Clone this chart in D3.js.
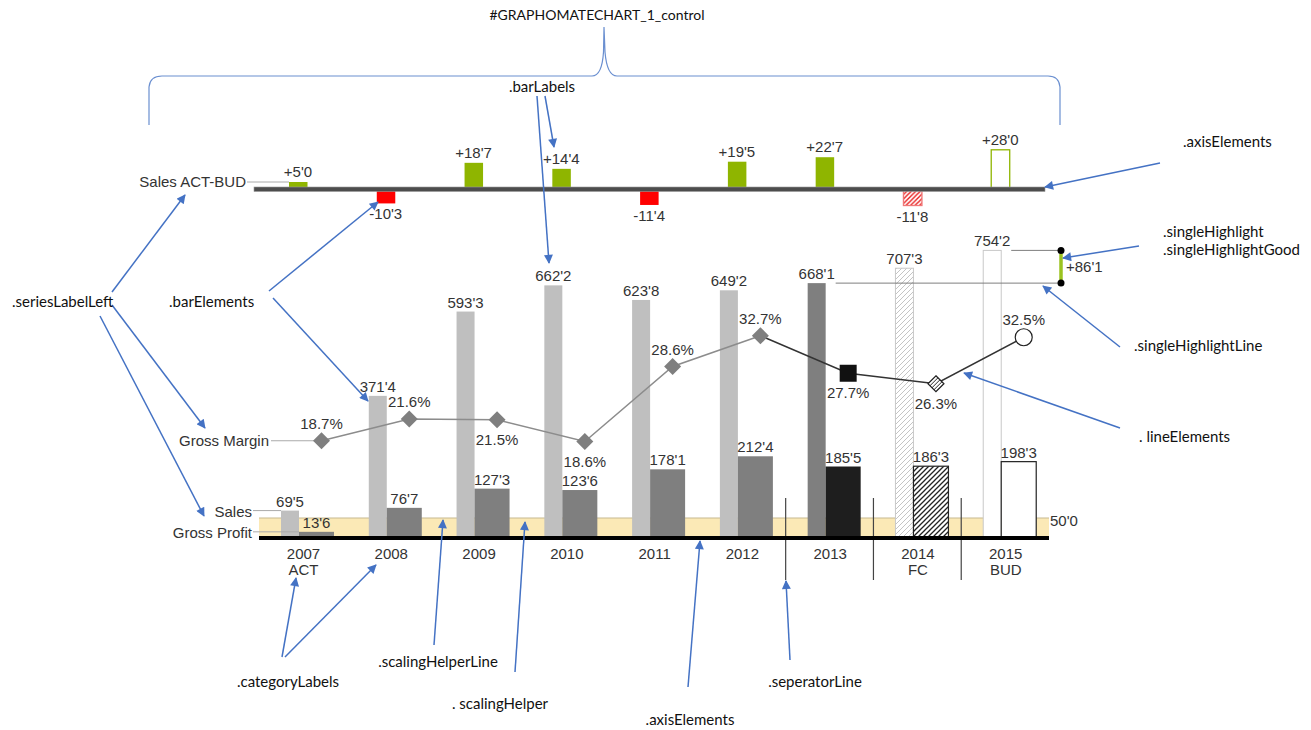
<!DOCTYPE html>
<html>
<head>
<meta charset="utf-8">
<script src="https://cdn.jsdelivr.net/npm/d3@7"></script>
<style>
    body { margin: 0; background: #fff; }
    svg text { font-family: "Liberation Sans", Arial, sans-serif; }
    .chart text { fill: #333; font-size: 15px; }
    .note text { font-family: Lato, sans-serif; font-size: 15px; fill: #111; }
</style>
</head>
<body>
<div id="chart"></div>
<script>
// data
let categories = ["2007", "2008", "2009", "2010", "2011", "2012", "2013", "2014", "2015"];
let categorySub = ["ACT", "", "", "", "", "", "", "FC", "BUD"];
let scenario = ["AC", "AC", "AC", "AC", "AC", "AC", "CY", "FC", "BU"];
let sales = [69.5, 371.4, 593.3, 662.2, 623.8, 649.2, 668.1, 707.3, 754.2];
let grossProfit = [13.6, 76.7, 127.3, 123.6, 178.1, 212.4, 185.5, 186.3, 198.3];
let grossMargin = [18.7, 21.6, 21.5, 18.6, 28.6, 32.7, 27.7, 26.3, 32.5];
let salesActBud = [5.0, -10.3, 18.7, 14.4, -11.4, 19.5, 22.7, -11.8, 28.0];
let scalingHelper = 50;
let separatorsAfter = ["2012", "2013", "2014"];
let highlightFrom = "2013", highlightTo = "2015";
let seriesNames = ["Sales ACT-BUD", "Gross Margin", "Sales", "Gross Profit"];

// annotation layer (blue call-outs)
let notes = [
    {t: "#GRAPHOMATECHART_1_control", x: 597, y: 20, a: "middle", s: 14},
    {t: ".barLabels", x: 542, y: 92, a: "middle"},
    {t: ".axisElements", x: 1183, y: 147},
    {t: ".singleHighlight", x: 1163, y: 237},
    {t: ".singleHighlightGood", x: 1163, y: 255},
    {t: ".singleHighlightLine", x: 1134, y: 351},
    {t: ". lineElements", x: 1139, y: 442},
    {t: ".seriesLabelLeft", x: 12, y: 307},
    {t: ".barElements", x: 169, y: 307},
    {t: ".categoryLabels", x: 288, y: 687, a: "middle"},
    {t: ".scalingHelperLine", x: 438, y: 667, a: "middle"},
    {t: ". scalingHelper", x: 500, y: 709, a: "middle"},
    {t: ".axisElements", x: 690, y: 725, a: "middle"},
    {t: ".seperatorLine", x: 815, y: 687, a: "middle"}
];
let arrows = [
    [537, 96, 549, 263], [545, 96, 554, 147],
    [1160, 163, 1045, 187], [1139, 246, 1063, 258],
    [1120, 347, 1043, 286], [1120, 428, 964, 373],
    [112, 292, 185, 195], [112, 305, 205, 428], [100, 316, 204, 516],
    [269, 291, 378, 202], [273, 298, 368, 401],
    [282, 657, 296, 578], [285, 657, 376, 565],
    [434, 645, 443, 520], [515, 672, 525, 522],
    [688, 687, 700, 541], [790, 660, 786, 581]
];

let fmt = (v) => v.toFixed(1).replace(".", "'");
let fmtDelta = (v) => (v > 0 ? "+" : "") + fmt(v);

let width = 1311, height = 730;

let svg = d3.select("#chart").append("svg")
    .attr("width", width)
    .attr("height", height);

let defs = svg.append("defs");

function hatch(id, color, size, sw) {
    let p = defs.append("pattern")
        .attr("id", id)
        .attr("patternUnits", "userSpaceOnUse")
        .attr("width", size)
        .attr("height", size);
    p.append("rect").attr("width", size).attr("height", size).attr("fill", "#fff");
    p.append("path")
        .attr("d", "M-1,1 l2,-2 M0," + size + " l" + size + "," + (-size) + " M" + (size - 1) + "," + (size + 1) + " l2,-2")
        .attr("stroke", color)
        .attr("stroke-width", sw);
}
hatch("hatchLight", "#c4c4c4", 5, 1);
hatch("hatchDark", "#222", 5, 1.3);
hatch("hatchRed", "#e81c1c", 4.5, 1.4);
hatch("hatchMarker", "#222", 4, 1);

defs.append("marker")
    .attr("id", "arrow")
    .attr("viewBox", "0 0 10 10")
    .attr("refX", 9).attr("refY", 5)
    .attr("markerUnits", "userSpaceOnUse")
    .attr("markerWidth", 11).attr("markerHeight", 9)
    .attr("orient", "auto")
    .append("path")
    .attr("d", "M0,0 L10,5 L0,10 z")
    .attr("fill", "#4472c4");

// scales
let x = d3.scaleBand().domain(categories).range([259, 1049]);
let y = d3.scaleLinear().domain([0, 800]).range([537, 233]);
let yPct = d3.scaleLinear().domain([0, 40]).range([581, 281]);
let yDelta = d3.scaleLinear().domain([-15, 30]).range([210, 147]);

let salesStyle = {AC: ["#bfbfbf", "none"], CY: ["#7f7f7f", "none"], FC: ["url(#hatchLight)", "#c8c8c8"], BU: ["#fff", "#c8c8c8"]};
let gpStyle = {AC: ["#7f7f7f", "none"], CY: ["#1e1e1e", "none"], FC: ["url(#hatchDark)", "#222"], BU: ["#fff", "#222"]};
let GOOD = "#8fb500", BAD = "#ff0000";

let chart = svg.append("g").attr("class", "chart");

// ---- Sales ACT-BUD delta chart
let dg = chart.append("g");
dg.selectAll("rect")
    .data(salesActBud)
    .join("rect")
    .attr("x", (d, i) => x(categories[i]) + 30)
    .attr("width", 18.5)
    .attr("y", (d) => d > 0 ? yDelta(d) : yDelta(0))
    .attr("height", (d) => Math.abs(yDelta(d) - yDelta(0)))
    .attr("fill", (d, i) => {
        if (scenario[i] === "FC") return d > 0 ? GOOD : "url(#hatchRed)";
        if (scenario[i] === "BU") return "#fff";
        return d > 0 ? GOOD : BAD;
    })
    .attr("stroke", (d, i) => scenario[i] === "FC" ? "#f07878" : scenario[i] === "BU" ? GOOD : "none")
    .attr("stroke-width", 1.3);

dg.selectAll("text")
    .data(salesActBud)
    .join("text")
    .attr("x", (d, i) => x(categories[i]) + 39)
    .attr("y", (d) => d > 0 ? yDelta(d) - 5 : yDelta(d) + 16)
    .attr("text-anchor", "middle")
    .text((d) => fmtDelta(d));

dg.append("rect")
    .attr("x", x(categories[0]) - 5)
    .attr("y", yDelta(0) - 2)
    .attr("width", x.range()[1] - x(categories[0]) + 1)
    .attr("height", 4.5)
    .attr("fill", "#4d4d4d")
    .attr("stroke", "#9a9a9a")
    .attr("stroke-width", 0.6);

dg.append("line")
    .attr("x1", 247).attr("x2", x(categories[0]) + 30)
    .attr("y1", yDelta(salesActBud[0])).attr("y2", yDelta(salesActBud[0]))
    .attr("stroke", "#aaa");
dg.append("text")
    .attr("x", 246).attr("y", yDelta(salesActBud[0]) + 5)
    .attr("text-anchor", "end")
    .text(seriesNames[0]);

// ---- main chart
// scaling helper band
chart.append("rect")
    .attr("x", x.range()[0])
    .attr("y", y(scalingHelper))
    .attr("width", x.range()[1] - x.range()[0])
    .attr("height", y(0) - y(scalingHelper))
    .attr("fill", "#fbe9b6");
chart.append("line")
    .attr("x1", x.range()[0]).attr("x2", x.range()[1])
    .attr("y1", y(scalingHelper)).attr("y2", y(scalingHelper))
    .attr("stroke", "#c7b98f");
chart.append("text")
    .attr("x", x.range()[1] + 1)
    .attr("y", y(scalingHelper) + 8)
    .text(fmt(scalingHelper));

// bars
chart.append("g").selectAll("rect")
    .data(sales)
    .join("rect")
    .attr("x", (d, i) => x(categories[i]) + 22)
    .attr("width", 18)
    .attr("y", (d) => y(d))
    .attr("height", (d) => y(0) - y(d))
    .attr("fill", (d, i) => salesStyle[scenario[i]][0])
    .attr("stroke", (d, i) => salesStyle[scenario[i]][1]);

chart.append("g").selectAll("rect")
    .data(grossProfit)
    .join("rect")
    .attr("x", (d, i) => x(categories[i]) + 40)
    .attr("width", 35)
    .attr("y", (d) => y(d))
    .attr("height", (d) => y(0) - y(d))
    .attr("fill", (d, i) => gpStyle[scenario[i]][0])
    .attr("stroke", (d, i) => gpStyle[scenario[i]][1])
    .attr("stroke-width", 1.2);

// bar labels
chart.append("g").selectAll("text")
    .data(sales)
    .join("text")
    .attr("x", (d, i) => x(categories[i]) + 31)
    .attr("y", (d) => y(d) - 4)
    .attr("text-anchor", "middle")
    .text((d) => fmt(d));
chart.append("g").selectAll("text")
    .data(grossProfit)
    .join("text")
    .attr("x", (d, i) => x(categories[i]) + 57.5)
    .attr("y", (d) => y(d) - 4)
    .attr("text-anchor", "middle")
    .text((d) => fmt(d));

// separator lines
chart.append("g").selectAll("line")
    .data(separatorsAfter)
    .join("line")
    .attr("x1", (d) => x(d) + x.bandwidth())
    .attr("x2", (d) => x(d) + x.bandwidth())
    .attr("y1", 498).attr("y2", 580)
    .attr("stroke", "#444")
    .attr("stroke-width", 1.2);

// axis
chart.append("rect")
    .attr("x", x.range()[0])
    .attr("y", y(0) - 1)
    .attr("width", x.range()[1] - x.range()[0])
    .attr("height", 4)
    .attr("fill", "#000");

// category labels
let cl = chart.append("g").selectAll("g")
    .data(categories)
    .join("g");
cl.append("text")
    .attr("x", (d) => x(d) + 44.5).attr("y", 559)
    .attr("text-anchor", "middle")
    .text((d) => d);
cl.append("text")
    .attr("x", (d) => x(d) + 44.5).attr("y", 575)
    .attr("text-anchor", "middle")
    .text((d, i) => categorySub[i]);

// gross margin line
let pts = grossMargin.map((v, i) => [x(categories[i]) + 62.5, yPct(v)]);
let line = d3.line();
chart.append("line")
    .attr("x1", 271).attr("x2", pts[0][0])
    .attr("y1", pts[0][1]).attr("y2", pts[0][1])
    .attr("stroke", "#aaa");
chart.append("path")
    .attr("d", line(pts.slice(0, 6)))
    .attr("fill", "none").attr("stroke", "#8c8c8c").attr("stroke-width", 1.5);
chart.append("path")
    .attr("d", line(pts.slice(5)))
    .attr("fill", "none").attr("stroke", "#333").attr("stroke-width", 1.5);

let diamond = (r) => "M0," + (-r) + "L" + r + ",0L0," + r + "L" + (-r) + ",0Z";
chart.append("g").selectAll("path")
    .data(pts)
    .join("path")
    .attr("transform", (d) => "translate(" + d[0] + "," + d[1] + ")")
    .attr("d", (d, i) => {
        let s = scenario[i];
        if (s === "CY") return "M-8.5,-8.5h17v17h-17Z";
        if (s === "FC") return diamond(8);
        if (s === "BU") return d3.symbol(d3.symbolCircle, Math.PI * 8.5 * 8.5)();
        return diamond(8.5);
    })
    .attr("fill", (d, i) => ({AC: "#7f7f7f", CY: "#111", FC: "url(#hatchMarker)", BU: "#fff"})[scenario[i]])
    .attr("stroke", (d, i) => scenario[i] === "FC" || scenario[i] === "BU" ? "#222" : "none")
    .attr("stroke-width", 1.2);

chart.append("g").selectAll("text")
    .data(grossMargin)
    .join("text")
    .attr("x", (d, i) => pts[i][0])
    .attr("y", (d, i) => (i === 0 || d >= grossMargin[i - 1]) ? pts[i][1] - 12 : pts[i][1] + 25)
    .attr("text-anchor", "middle")
    .text((d) => d.toFixed(1) + "%");

// series labels on the left
chart.append("text")
    .attr("x", 269).attr("y", pts[0][1] + 5)
    .attr("text-anchor", "end")
    .text(seriesNames[1]);
chart.append("line")
    .attr("x1", 253).attr("x2", x(categories[0]) + 22)
    .attr("y1", y(sales[0])).attr("y2", y(sales[0]))
    .attr("stroke", "#aaa");
chart.append("text")
    .attr("x", 252).attr("y", y(sales[0]) + 6)
    .attr("text-anchor", "end")
    .text(seriesNames[2]);
chart.append("line")
    .attr("x1", 253).attr("x2", x(categories[0]) + 40)
    .attr("y1", y(grossProfit[0])).attr("y2", y(grossProfit[0]))
    .attr("stroke", "#aaa");
chart.append("text")
    .attr("x", 252).attr("y", y(grossProfit[0]) + 6)
    .attr("text-anchor", "end")
    .text(seriesNames[3]);

// single highlight
let iFrom = categories.indexOf(highlightFrom), iTo = categories.indexOf(highlightTo);
let hx = x.range()[1] + 12,
    yLo = y(sales[iFrom]),
    yHi = y(sales[iTo]),
    diff = sales[iTo] - sales[iFrom];
chart.append("line")
    .attr("x1", x(highlightFrom) + 50).attr("x2", hx)
    .attr("y1", yLo).attr("y2", yLo)
    .attr("stroke", "#7f7f7f");
chart.append("line")
    .attr("x1", x(highlightTo) + 50).attr("x2", hx)
    .attr("y1", yHi).attr("y2", yHi)
    .attr("stroke", "#7f7f7f");
chart.append("line")
    .attr("x1", hx).attr("x2", hx)
    .attr("y1", yHi + 3).attr("y2", yLo - 3)
    .attr("stroke", diff > 0 ? "#9bc31f" : BAD)
    .attr("stroke-width", 3.5);
chart.append("g").selectAll("circle")
    .data([yHi, yLo])
    .join("circle")
    .attr("cx", hx).attr("cy", (d) => d).attr("r", 3.5)
    .attr("fill", "#000");
chart.append("text")
    .attr("x", hx + 5).attr("y", (yHi + yLo) / 2 + 5)
    .text(fmtDelta(diff));

// ---- annotation layer
let note = svg.append("g").attr("class", "note");
note.append("path")
    .attr("d", "M149,125 L149,87 Q150,76 162,76 L592,76 Q602,76 603.5,52 L604,27 M604,27 L605,52 Q607,76 617,76 L1048,76 Q1059,76 1060,87 L1060,125")
    .attr("fill", "none")
    .attr("stroke", "#6a8fd0")
    .attr("stroke-width", 1.2);

note.selectAll("line")
    .data(arrows)
    .join("line")
    .attr("x1", (d) => d[0]).attr("y1", (d) => d[1])
    .attr("x2", (d) => d[2]).attr("y2", (d) => d[3])
    .attr("stroke", "#4472c4")
    .attr("stroke-width", 1.5)
    .attr("marker-end", "url(#arrow)");

note.selectAll("text")
    .data(notes)
    .join("text")
    .attr("x", (d) => d.x).attr("y", (d) => d.y)
    .attr("text-anchor", (d) => d.a || "start")
    .style("font-size", (d) => (d.s || 15) + "px")
    .text((d) => d.t);
</script>
</body>
</html>
